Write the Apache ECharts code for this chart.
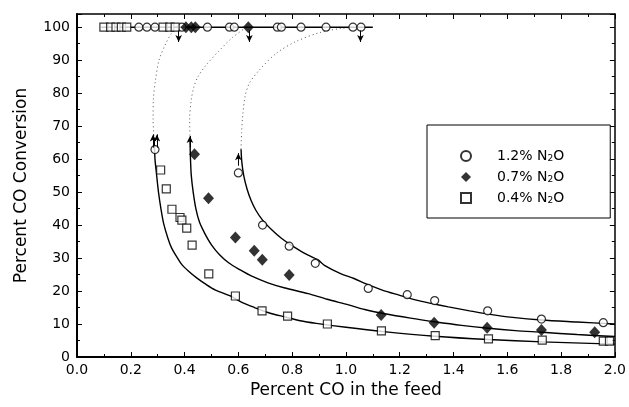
<!DOCTYPE html>
<html><head><meta charset="utf-8">
<script src="https://cdn.jsdelivr.net/npm/echarts@6/dist/echarts.min.js"></script>
<style>html,body{margin:0;padding:0;background:#fff}#c{width:629px;height:407px}</style>
</head><body><div id="c"></div>
<script>
// ---- data ----
const seriesNames = ['1.2% N2O', '0.7% N2O', '0.4% N2O'];
const n2o12 = [[0.29,62.9],[0.60,55.8],[0.69,40.0],[0.789,33.6],[0.886,28.4],[1.083,20.8],[1.228,18.9],[1.33,17.1],[1.527,14.0],[1.727,11.5],[1.957,10.4],
  [0.23,100],[0.26,100],[0.29,100],[0.39,100],[0.485,100],[0.567,100],[0.585,100],[0.745,100],[0.76,100],[0.833,100],[0.926,100],[1.026,100],[1.056,100]];
const n2o07 = [[0.437,61.5],[0.489,48.1],[0.589,36.2],[0.659,32.2],[0.689,29.5],[0.789,24.9],[1.131,12.7],[1.328,10.4],[1.525,8.9],[1.727,8.2],[1.925,7.5],
  [0.405,100],[0.425,100],[0.44,100],[0.637,100]];
const n2o04 = [[0.311,56.7],[0.332,51.0],[0.353,44.8],[0.383,42.3],[0.39,41.5],[0.408,39.1],[0.428,33.9],[0.49,25.2],[0.589,18.5],[0.688,14.0],[0.783,12.4],[0.931,10.0],[1.132,7.9],[1.332,6.5],[1.53,5.5],[1.73,5.1],[1.957,4.8],[1.98,4.8],
  [0.10,100],[0.125,100],[0.145,100],[0.165,100],[0.185,100],[0.32,100],[0.345,100],[0.365,100]];
// model curves (solid lower branches)
const curve12 = [[0.61,63],[0.613,59],[0.62,55],[0.632,51],[0.647,47.5],[0.665,44.5],[0.69,41.5],[0.725,38.5],[0.76,36],[0.795,34],[0.845,31.5],[0.895,29.5],[0.92,27.8],[0.98,25.3],[1.03,23.8],[1.08,22],[1.135,20.3],[1.2,18.7],[1.258,17.3],[1.32,16.2],[1.381,15.2],[1.46,14],[1.53,13],[1.62,12],[1.727,11.2],[1.86,10.6],[2.0,10.0]];
const curve07 = [[0.42,66],[0.422,60],[0.425,55],[0.432,50],[0.442,45],[0.455,41],[0.475,37.5],[0.5,34],[0.53,31],[0.565,28.5],[0.605,26.5],[0.65,24.5],[0.71,22.5],[0.77,21],[0.86,19.2],[0.93,17.5],[1.01,15.8],[1.07,14.4],[1.14,13.2],[1.24,11.8],[1.33,10.7],[1.43,9.6],[1.53,8.7],[1.63,8.0],[1.73,7.5],[1.86,6.8],[2.0,6.2]];
const curve04 = [[0.287,66],[0.29,60],[0.295,56],[0.303,50],[0.312,45],[0.322,40.5],[0.338,36],[0.352,33],[0.37,30.5],[0.39,28],[0.415,26],[0.445,24],[0.48,22],[0.515,20.3],[0.57,18.5],[0.615,16.5],[0.66,15],[0.71,13.5],[0.77,12.2],[0.83,11],[0.89,10.2],[1.0,9.0],[1.14,7.7],[1.33,6.3],[1.53,5.3],[1.73,4.6],[2.0,3.9]];
// unstable (dotted) branches
const dotted12 = [[0.61,63],[0.612,68],[0.616,73],[0.625,79],[0.641,83],[0.678,87],[0.74,92],[0.81,95.5],[0.9,98.3],[0.98,99.6],[1.05,100]];
const dotted07 = [[0.42,66],[0.419,72],[0.425,78],[0.435,82],[0.45,85],[0.48,88.5],[0.53,93],[0.58,97],[0.63,100]];
const dotted04 = [[0.287,66],[0.283,72],[0.284,78],[0.292,84],[0.305,90],[0.33,95],[0.35,98],[0.37,100]];
// upper (ignited) branch
const topLine = [[0.09,100],[1.10,100]];
// jump arrows [x, yFrom, yTo]
const arrows = [[0.378,99,95.5],[0.641,99,95.5],[1.054,99,95.5],[0.283,63.5,67.5],[0.297,63.5,67.5],[0.42,63.5,67],[0.60,58,61.8]];
const xTicks = {min:0, max:2, interval:0.2};
const yTicks = {min:0, max:100, interval:10};

const FONT = 'DejaVu Sans';
const chart = echarts.init(document.getElementById('c'), null, {renderer:'canvas'});

function xAxisCfg(pos, showLabel, lw){
  return {type:'value', position:pos, min:xTicks.min, max:xTicks.max, interval:xTicks.interval,
    axisLine:{show:true, onZero:false, lineStyle:{color:'#000', width:lw}},
    axisTick:{show:true, inside:true, length:5, lineStyle:{color:'#000', width:1}},
    minorTick:{show:true, splitNumber:2, length:3, lineStyle:{color:'#000', width:1}},
    splitLine:{show:false},
    axisLabel:{show:showLabel, color:'#000', fontFamily:FONT, fontSize:14, margin:6,
      formatter:v=>v.toFixed(1)},
    name: showLabel ? 'Percent CO in the feed' : '', nameLocation:'middle', nameGap:21,
    nameTextStyle:{color:'#000', fontFamily:FONT, fontSize:17}};
}
function yAxisCfg(pos, showLabel, lw){
  return {type:'value', position:pos, min:yTicks.min, max:104, interval:yTicks.interval,
    axisLine:{show:true, onZero:false, lineStyle:{color:'#000', width:lw}},
    axisTick:{show:true, inside:true, length:5, lineStyle:{color:'#000', width:1}},
    minorTick:{show:true, splitNumber:2, length:3, lineStyle:{color:'#000', width:1}},
    splitLine:{show:false},
    axisLabel:{show:showLabel, color:'#000', fontFamily:FONT, fontSize:14, margin:7,
      formatter:v=> (v<=yTicks.max && Math.abs(v%10)<1e-6) ? String(v) : ''},
    name: showLabel ? 'Percent CO Conversion' : '', nameLocation:'middle', nameGap:47,
    nameTextStyle:{color:'#000', fontFamily:FONT, fontSize:17}};
}

const solid = {color:'#000', width:1.4};
const dots = {color:'#555', width:1, type:[1,3]};
function curve(data, ls){
  return {type:'line', data:data, smooth:0.3, showSymbol:false, symbol:'none', silent:true,
    lineStyle:ls, z:1, xAxisIndex:0, yAxisIndex:0};
}

const arrowLines = arrows.map(a=>[{coord:[a[0],a[1]]},{coord:[a[0],a[2]]}]);

const option = {
  animation:false,
  backgroundColor:'#fff',
  grid:{left:77, right:12, top:14, bottom:50, containLabel:false},
  xAxis:[xAxisCfg('bottom', true, 2), xAxisCfg('top', false, 1.5)],
  yAxis:[yAxisCfg('left', true, 2), yAxisCfg('right', false, 1.5)],
  legend:{
    orient:'vertical', left:427, top:125,
    padding:[24,46,13,33], itemGap:7, itemWidth:10, itemHeight:10,
    borderColor:'#000', borderWidth:1, backgroundColor:'#fff',
    data:seriesNames,
    formatter:name=>name.replace('N2O','N{sub|2}O'),
    textStyle:{color:'#000', fontFamily:FONT, fontSize:14, padding:[0,0,0,21],
      rich:{sub:{fontFamily:FONT, fontSize:9, verticalAlign:'bottom', padding:[5,0,0,0]}}}
  },
  series:[
    curve(curve12, solid), curve(curve07, solid), curve(curve04, solid),
    curve(dotted12, dots), curve(dotted07, dots), curve(dotted04, dots),
    {type:'line', data:topLine, showSymbol:false, symbol:'none', silent:true, lineStyle:solid, z:1,
      markLine:{silent:true, symbol:['none','arrow'], symbolSize:[5,7], label:{show:false},
        lineStyle:{color:'#000', width:1, type:'solid'}, data:arrowLines}},
    {name:seriesNames[0], type:'scatter', data:n2o12, symbol:'circle', symbolSize:8, z:3,
      itemStyle:{color:'#fff', borderColor:'#000', borderWidth:1.2}},
    {name:seriesNames[1], type:'scatter', data:n2o07, symbol:'diamond', symbolSize:[11,12], z:3,
      itemStyle:{color:'#000', borderColor:'#000', borderWidth:0}},
    {name:seriesNames[2], type:'scatter', data:n2o04, symbol:'rect', symbolSize:8, z:3,
      itemStyle:{color:'#fff', borderColor:'#000', borderWidth:1.2}}
  ]
};
chart.setOption(option);
</script>
</body></html>
